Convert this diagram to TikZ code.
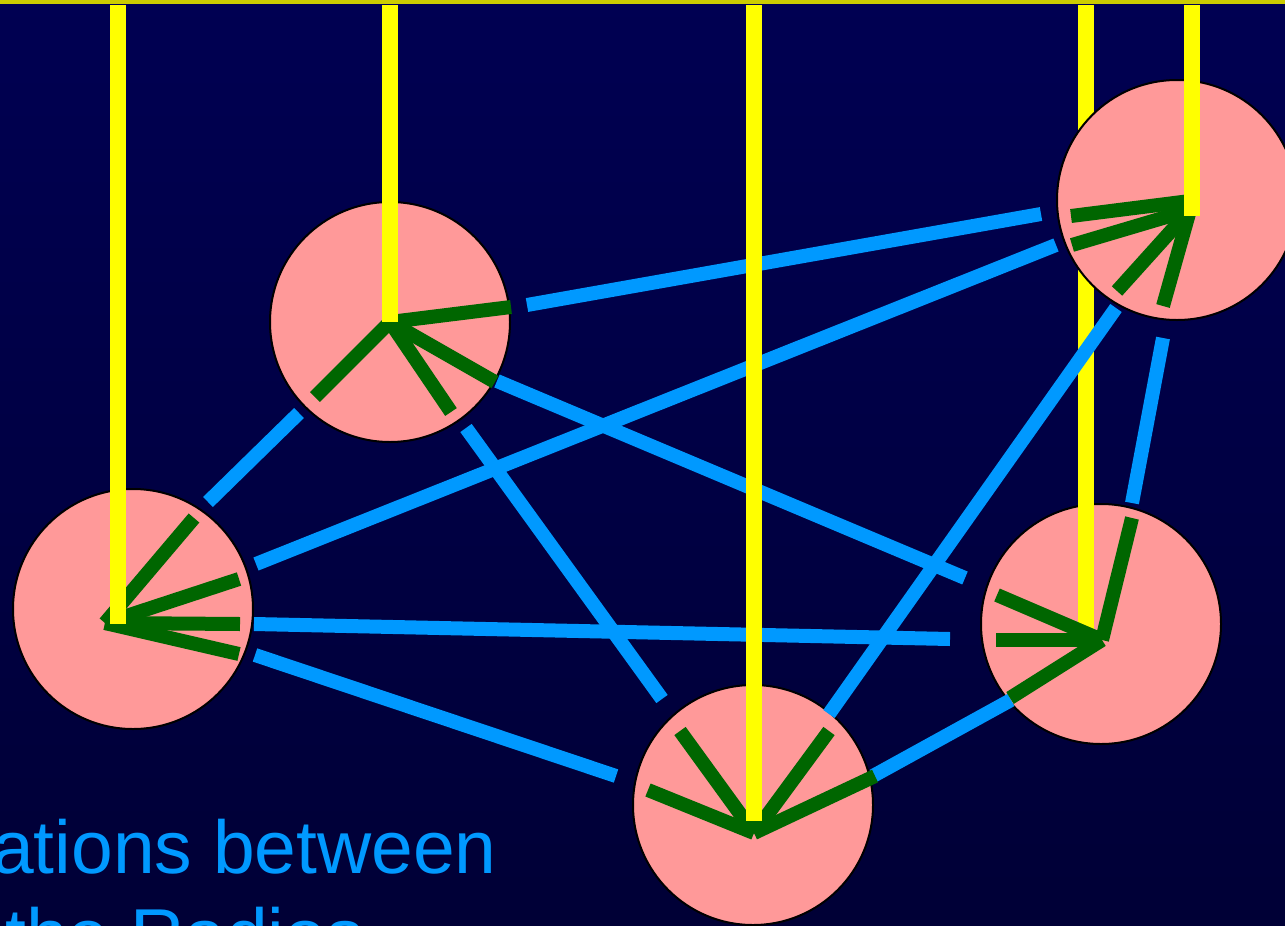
\documentclass[tikz,border=0pt]{standalone}
\usepackage{fontspec}
\setmainfont{Liberation Sans}
\definecolor{bgtop}{RGB}{0,0,82}
\definecolor{bgmid}{RGB}{0,0,78}
\definecolor{bgbot}{RGB}{0,0,54}
\definecolor{radiofill}{RGB}{255,153,153}
\definecolor{linkblue}{RGB}{0,153,255}
\definecolor{beamgreen}{RGB}{0,102,0}
\definecolor{antyellow}{RGB}{255,255,0}
\definecolor{stripyellow}{RGB}{204,204,0}
\tikzset{
  radio/.style={circle,draw=black,line width=2pt,fill=radiofill,minimum size=240pt,inner sep=0pt},
  ant/.style={draw=antyellow,line width=16pt,line cap=butt},
  beam/.style={draw=beamgreen,line width=14pt,line cap=butt},
  link/.style={draw=linkblue,line width=14pt,line cap=butt},
  txt/.style={text=linkblue,inner sep=0pt,font=\fontsize{75}{86}\selectfont}
}
\begin{document}
\begin{tikzpicture}[x=1pt,y=-1pt]
\useasboundingbox (0,0) rectangle (1285,926);
\clip (0,0) rectangle (1285,926);
\shade[top color=bgtop,middle color=bgmid,bottom color=bgbot] (0,0) rectangle (1285,926);
\fill[stripyellow] (0,0) rectangle (1285,3.5);

% antenna points (origins of the beams)
\coordinate (Ao) at (105,623);
\coordinate (Bo) at (390,322);
\coordinate (Co) at (1190,210);
\coordinate (Co2) at (1190,201);
\coordinate (Do) at (1102,640);
\coordinate (Eo) at (754,833);
% antenna masts
\coordinate (At) at (118,5);  \coordinate (Ay) at (118,624);
\coordinate (Bt) at (390,5);  \coordinate (By) at (390,322);
\coordinate (Ct) at (1192,5); \coordinate (Cy) at (1192,216);
\coordinate (Dt) at (1086,5); \coordinate (Dy) at (1086,639);
\coordinate (Et) at (754,5);  \coordinate (Ey) at (754,821);

% beam ends
\coordinate (gAB) at (194,518); \coordinate (gAC) at (239,579);
\coordinate (gAD) at (240,624); \coordinate (gAE) at (239,654);
\coordinate (gBA) at (315,397); \coordinate (gBC) at (511,307);
\coordinate (gBD) at (495,382); \coordinate (gBE) at (451,412);
\coordinate (gCB) at (1071,216); \coordinate (gCA) at (1072,245);
\coordinate (gCE) at (1117,291); \coordinate (gCD) at (1163,306);
\coordinate (gDB) at (997,595); \coordinate (gDA) at (996,640);
\coordinate (gDC) at (1132,518); \coordinate (gDE) at (1010,698);
\coordinate (gEA) at (648,790); \coordinate (gEB) at (680,731);
\coordinate (gEC) at (829,731); \coordinate (gED) at (875,776);

% link ends
\coordinate (lAB1) at (208,502);  \coordinate (lAB2) at (299,413);
\coordinate (lAC1) at (256,564);  \coordinate (lAC2) at (1056,245);
\coordinate (lAD1) at (254,624);  \coordinate (lAD2) at (950,639);
\coordinate (lAE1) at (255,655);  \coordinate (lAE2) at (616,776);
\coordinate (lBC1) at (527,305);  \coordinate (lBC2) at (1041,214);
\coordinate (lBD1) at (497,381);  \coordinate (lBD2) at (965,578);
\coordinate (lBE1) at (466,428);  \coordinate (lBE2) at (662,699);
\coordinate (lCE1) at (1116,308); \coordinate (lCE2) at (829,714);
\coordinate (lCD1) at (1163,338); \coordinate (lCD2) at (1132,503);
\coordinate (lDE1) at (1011,700); \coordinate (lDE2) at (873,776);

% radios
\node[radio] (A) at (133,609) {};
\node[radio] (B) at (390,322) {};
\node[radio] (D) at (1101,624) {};
\node[radio] (E) at (753,805) {};
\draw[ant] (Dt) -- (Dy);
\node[radio] (C) at (1177,200) {};

% links
\draw[link] (lAB1) -- (lAB2);
\draw[link] (lAC1) -- (lAC2);
\draw[link] (lAD1) -- (lAD2);
\draw[link] (lAE1) -- (lAE2);
\draw[link] (lBC1) -- (lBC2);
\draw[link] (lBD1) -- (lBD2);
\draw[link] (lBE1) -- (lBE2);
\draw[link] (lCE1) -- (lCE2);
\draw[link] (lCD1) -- (lCD2);
\draw[link] (lDE1) -- (lDE2);

% beams
\foreach \s in {AB,AC,AD,AE}{\draw[beam] (Ao) -- (g\s);}
\foreach \s in {BA,BC,BD,BE}{\draw[beam] (Bo) -- (g\s);}
\draw[beam] (Co2) -- (gCB);
\foreach \s in {CA,CE,CD}{\draw[beam] (Co) -- (g\s);}
\foreach \s in {DB,DA,DC,DE}{\draw[beam] (Do) -- (g\s);}
\foreach \s in {EA,EB,EC,ED}{\draw[beam] (Eo) -- (g\s);}

% masts on top
\draw[ant] (At) -- (Ay);
\draw[ant] (Bt) -- (By);
\draw[ant] (Ct) -- (Cy);
\draw[ant] (Et) -- (Ey);

% caption
\node[txt,anchor=base west] (t1) at (-8,873) {ations between};
\node[txt,anchor=base west] (t2) at (5,961) {the Radios};
\end{tikzpicture}
\end{document}
